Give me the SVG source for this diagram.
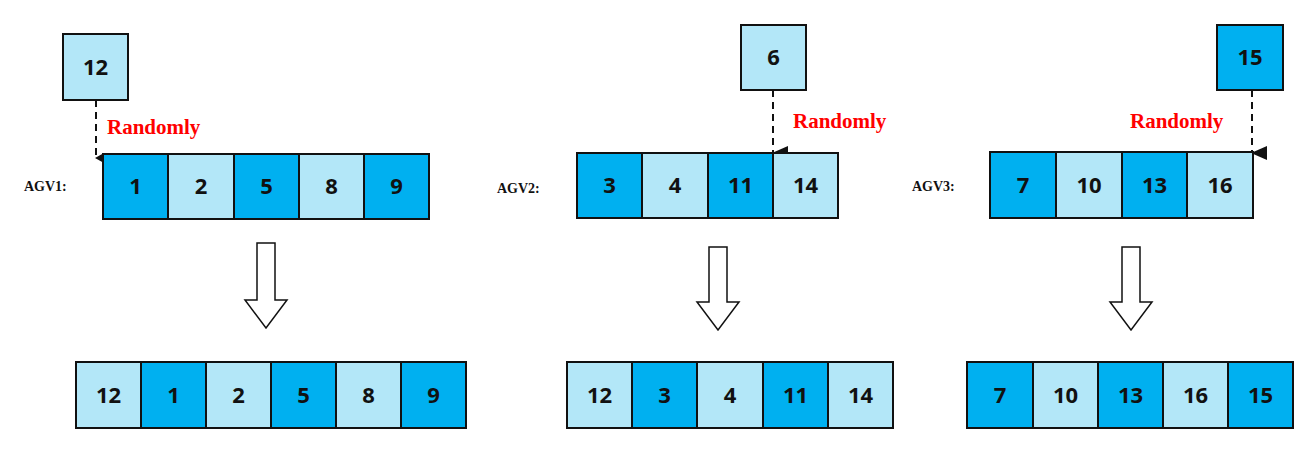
<svg xmlns="http://www.w3.org/2000/svg" width="1307" height="452" viewBox="0 0 1307 452">
<style>
.d{fill:#00B0F0;stroke:#111;stroke-width:2}
.l{fill:#B3E7F8;stroke:#111;stroke-width:2}
.n{font-family:"Open Sans","Liberation Sans",sans-serif;font-weight:bold;font-size:22px;text-anchor:middle;fill:#111}
.r{font-family:"Liberation Serif",serif;font-weight:bold;font-size:21px;fill:#FF0000}
.a{font-family:"Liberation Serif",serif;font-weight:bold;font-size:14px;fill:#111}
.h{fill:#fff;stroke:#111;stroke-width:1.5}
</style>
<defs><marker id="m" markerWidth="10" markerHeight="10" refX="5" refY="8" orient="auto" markerUnits="userSpaceOnUse"><path d="M0,0 L10,0 L5,9 Z" fill="#111"/></marker>
<marker id="m2" markerWidth="14" markerHeight="16" refX="7" refY="15" orient="auto" markerUnits="userSpaceOnUse"><path d="M0,0 L14,0 L7,16 Z" fill="#111"/></marker></defs>
<g id="connectors">
<line x1="96" y1="100" x2="96" y2="158" stroke="#111" stroke-width="2" stroke-dasharray="7,5" marker-end="url(#m)"/>
<line x1="773" y1="90" x2="773" y2="153" stroke="#111" stroke-width="2" stroke-dasharray="7,5" marker-end="url(#m2)"/>
<line x1="1252" y1="90" x2="1252" y2="153" stroke="#111" stroke-width="2" stroke-dasharray="7,5" marker-end="url(#m2)"/>
<path class="h" d="M257,243 H275 V300 H287 L266,328 L245,300 H257 Z"/>
<path class="h" d="M709,247 H727 V302 H739 L718,330 L697,302 H709 Z"/>
<path class="h" d="M1122,247 H1140 V302 H1152 L1131,330 L1110,302 H1122 Z"/>
</g>
<g id="labels">
<text class="r" x="107" y="134">Randomly</text>
<text class="r" x="793" y="128">Randomly</text>
<text class="r" x="1130" y="128">Randomly</text>
<text class="a" x="24" y="191">AGV1:</text>
<text class="a" x="497" y="193">AGV2:</text>
<text class="a" x="912" y="191">AGV3:</text>
</g>
<g id="n12"><rect class="l" x="63" y="34" width="65" height="66"/><text class="n" x="95.5" y="75">12</text></g>
<g id="n6"><rect class="l" x="741" y="25" width="65" height="65"/><text class="n" x="773.5" y="65">6</text></g>
<g id="n15"><rect class="d" x="1217" y="25" width="66" height="65"/><text class="n" x="1250" y="65">15</text></g>
<g id="agv1">
<rect class="d" x="103" y="154" width="65" height="65"/><text class="n" x="135.5" y="194">1</text>
<rect class="l" x="168" y="154" width="66" height="65"/><text class="n" x="201" y="194">2</text>
<rect class="d" x="234" y="154" width="65" height="65"/><text class="n" x="266.5" y="194">5</text>
<rect class="l" x="299" y="154" width="65" height="65"/><text class="n" x="331.5" y="194">8</text>
<rect class="d" x="364" y="154" width="65" height="65"/><text class="n" x="396.5" y="194">9</text>
</g>
<g id="agv2">
<rect class="d" x="577" y="153" width="65" height="65"/><text class="n" x="609.5" y="193">3</text>
<rect class="l" x="642" y="153" width="66" height="65"/><text class="n" x="675" y="193">4</text>
<rect class="d" x="708" y="153" width="65" height="65"/><text class="n" x="740.5" y="193">11</text>
<rect class="l" x="773" y="153" width="65" height="65"/><text class="n" x="805.5" y="193">14</text>
</g>
<g id="agv3">
<rect class="d" x="990" y="152" width="66" height="66"/><text class="n" x="1023" y="193">7</text>
<rect class="l" x="1056" y="152" width="66" height="66"/><text class="n" x="1089" y="193">10</text>
<rect class="d" x="1122" y="152" width="65" height="66"/><text class="n" x="1154.5" y="193">13</text>
<rect class="l" x="1187" y="152" width="66" height="66"/><text class="n" x="1220" y="193">16</text>
</g>
<g id="res1">
<rect class="l" x="76" y="362" width="65" height="66"/><text class="n" x="108.5" y="403">12</text>
<rect class="d" x="141" y="362" width="65" height="66"/><text class="n" x="173.5" y="403">1</text>
<rect class="l" x="206" y="362" width="65" height="66"/><text class="n" x="238.5" y="403">2</text>
<rect class="d" x="271" y="362" width="65" height="66"/><text class="n" x="303.5" y="403">5</text>
<rect class="l" x="336" y="362" width="65" height="66"/><text class="n" x="368.5" y="403">8</text>
<rect class="d" x="401" y="362" width="65" height="66"/><text class="n" x="433.5" y="403">9</text>
</g>
<g id="res2">
<rect class="l" x="567" y="362" width="65" height="66"/><text class="n" x="599.5" y="403">12</text>
<rect class="d" x="632" y="362" width="65" height="66"/><text class="n" x="664.5" y="403">3</text>
<rect class="l" x="697" y="362" width="66" height="66"/><text class="n" x="730" y="403">4</text>
<rect class="d" x="763" y="362" width="65" height="66"/><text class="n" x="795.5" y="403">11</text>
<rect class="l" x="828" y="362" width="65" height="66"/><text class="n" x="860.5" y="403">14</text>
</g>
<g id="res3">
<rect class="d" x="967" y="362" width="66" height="66"/><text class="n" x="1000" y="403">7</text>
<rect class="l" x="1033" y="362" width="65" height="66"/><text class="n" x="1065.5" y="403">10</text>
<rect class="d" x="1098" y="362" width="65" height="66"/><text class="n" x="1130.5" y="403">13</text>
<rect class="l" x="1163" y="362" width="65" height="66"/><text class="n" x="1195.5" y="403">16</text>
<rect class="d" x="1228" y="362" width="65" height="66"/><text class="n" x="1260.5" y="403">15</text>
</g>
</svg>
